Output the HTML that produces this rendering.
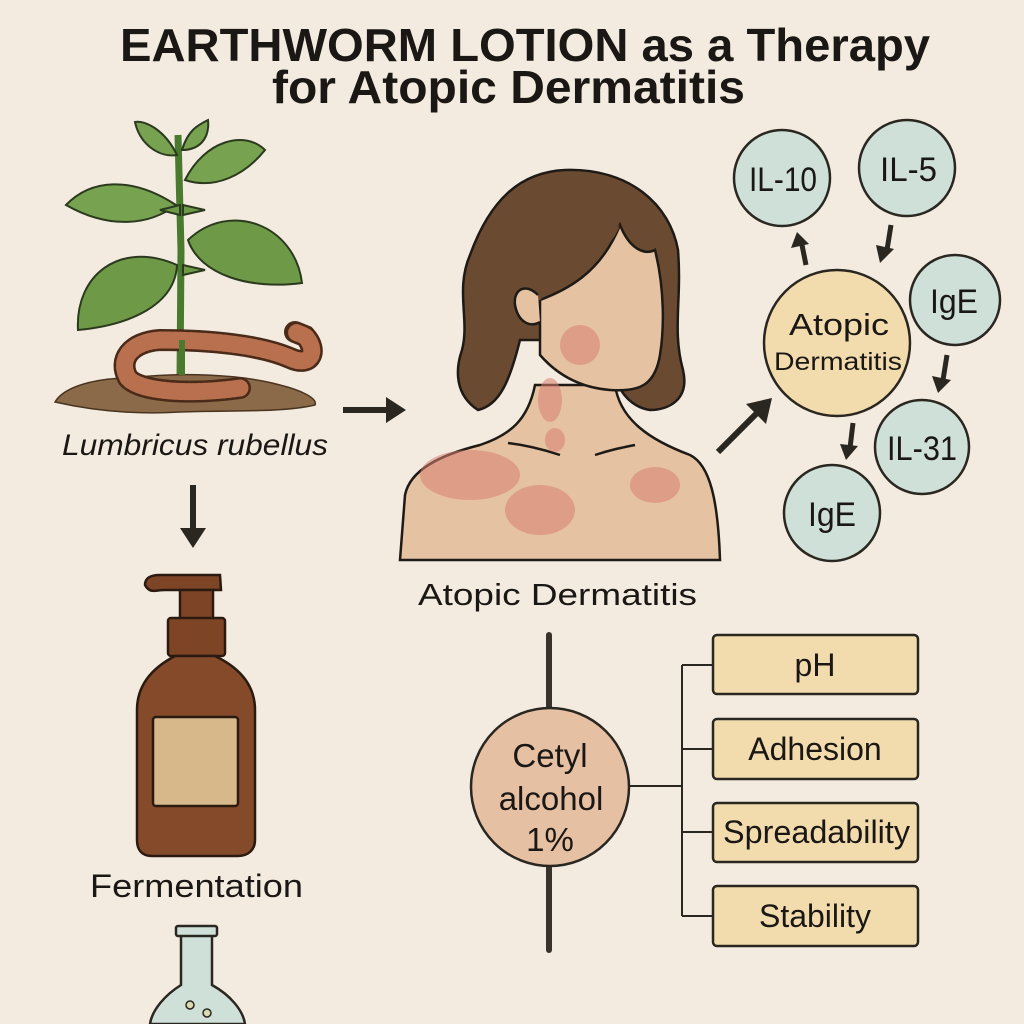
<!DOCTYPE html>
<html><head><meta charset="utf-8"><style>
html,body{margin:0;padding:0;background:#f3ebdf;}
svg{display:block}
text{font-family:"Liberation Sans",sans-serif;fill:#1a1714}
</style></head><body>
<svg width="1024" height="1024" viewBox="0 0 1024 1024" xmlns="http://www.w3.org/2000/svg">
<rect width="1024" height="1024" fill="#f3ebdf"/>
<text x="120" y="61" font-size="46" font-weight="bold" textLength="810" lengthAdjust="spacingAndGlyphs">EARTHWORM LOTION as a Therapy</text>
<text x="272" y="103" font-size="46" font-weight="bold" textLength="473" lengthAdjust="spacingAndGlyphs">for Atopic Dermatitis</text>

<!-- plant -->
<path d="M180 380 L181 250 L178 135" fill="none" stroke="#4a7a2e" stroke-width="7"/>
<g stroke="#2b3a1e" stroke-width="2" fill="#6e9a48">
<path d="M177 265 C120 240 75 275 78 330 C130 325 175 305 177 265Z"/>
<path d="M188 240 C230 200 295 225 302 283 C250 290 200 275 188 240Z"/>
<path d="M176 205 C130 175 90 180 66 205 C110 230 150 225 176 205Z" fill="#77a250"/>
<path d="M185 180 C205 140 245 130 265 150 C245 175 215 190 185 180Z" fill="#77a250"/>
<path d="M177 155 C165 130 145 120 135 122 C140 145 160 158 177 155Z" fill="#77a250"/>
<path d="M182 150 C188 130 198 125 208 120 C210 140 198 150 182 150Z" fill="#77a250"/>
<path d="M180 215 L160 210 L180 205Z M183 215 L205 210 L183 205Z M183 275 L205 270 L183 265Z"/>
</g>
<path d="M55 402 C65 385 100 378 130 378 C180 372 240 374 280 385 C300 390 318 398 315 405 C280 413 230 410 180 412 C130 415 90 410 55 402Z" fill="#8a6a48" stroke="#4a3420" stroke-width="1.5"/>
<path d="M240 388 C190 395 140 392 128 378 C118 360 130 342 160 340 C210 340 260 345 290 358 C312 368 318 350 305 336 L295 332" fill="none" stroke="#4a2a18" stroke-width="22" stroke-linecap="round"/>
<path d="M240 388 C190 395 140 392 128 378 C118 360 130 342 160 340 C210 340 260 345 290 358 C312 368 318 350 305 336 L295 332" fill="none" stroke="#b8704e" stroke-width="17" stroke-linecap="round" stroke-dasharray="2 3"/>
<path d="M182 340 L182 375" stroke="#4a7a2e" stroke-width="6"/>
<text x="62" y="455" font-size="30" font-style="italic" textLength="266" lengthAdjust="spacingAndGlyphs">Lumbricus rubellus</text>

<!-- down arrow -->
<line x1="193" y1="485" x2="193" y2="532" stroke="#2a2620" stroke-width="6"/>
<path d="M180 528 L206 528 L193 548Z" fill="#2a2620"/>

<!-- bottle -->
<g stroke="#2a1a10" stroke-width="2.5" fill="#7e4426">
<path d="M145 585 C145 578 150 575 160 575 L220 575 L221 590 L165 590 C155 590 150 594 145 585Z"/>
<rect x="180" y="590" width="33" height="30"/>
<rect x="168" y="618" width="57" height="38" rx="3"/>
<path d="M175 656 L215 656 C240 668 255 685 255 710 L255 840 C255 850 248 856 238 856 L152 856 C142 856 137 850 137 840 L137 710 C137 685 152 668 175 656Z" fill="#844a2a"/>
<rect x="153" y="717" width="85" height="89" rx="3" fill="#d6b88a"/>
</g>
<text x="90" y="897" font-size="32" textLength="213" lengthAdjust="spacingAndGlyphs">Fermentation</text>
<!-- flask -->
<path d="M181 935 L181 985 C165 995 152 1010 150 1024 L245 1024 C243 1010 230 995 212 985 L212 935" fill="#cfe0d8" stroke="#2a2620" stroke-width="2.5"/>
<rect x="176" y="926" width="41" height="10" rx="2" fill="#cfe0d8" stroke="#2a2620" stroke-width="2.5"/>
<circle cx="190" cy="1005" r="4" fill="#d8dcb0" stroke="#2a2620" stroke-width="1.5"/>
<circle cx="207" cy="1013" r="4" fill="#d8dcb0" stroke="#2a2620" stroke-width="1.5"/>

<!-- right arrow -->
<line x1="343" y1="410" x2="390" y2="410" stroke="#2a2620" stroke-width="6"/>
<path d="M386 397 L406 410 L386 423Z" fill="#2a2620"/>

<!-- woman -->
<g stroke="#1e1a16" stroke-width="2.5">
<path d="M400 560 L405 495 C410 470 440 455 480 445 C510 435 528 420 535 385 L615 385 C620 420 650 440 690 455 C710 465 718 500 720 560Z" fill="#e5c2a2"/>
<path d="M478 410 C455 395 455 370 462 350 C470 320 455 290 470 255 C490 200 520 172 565 170 C630 168 670 205 678 250 C682 300 672 330 683 370 C690 400 668 410 650 410 C615 405 610 360 600 340 L520 340 C510 380 500 405 478 410Z" fill="#6a4a30"/>
<path d="M540 300 C565 290 600 275 620 225 C630 250 645 255 655 250 C665 290 664 330 660 355 C655 385 640 392 610 390 C585 388 560 378 540 355Z" fill="#e5c2a2"/>
<path d="M540 300 C520 305 510 300 510 275 C530 290 555 285 585 265 C600 255 615 240 620 225" fill="#6a4a30" stroke="none"/>
<path d="M538 295 C525 282 513 290 515 305 C518 322 530 328 540 322" fill="#e5c2a2"/>
<path d="M508 443 C525 445 545 450 560 455 M595 455 C610 450 620 448 635 445" fill="none"/>
</g>
<g fill="#d98070" opacity="0.55">
<ellipse cx="580" cy="345" rx="20" ry="20"/><ellipse cx="550" cy="400" rx="12" ry="22"/>
<ellipse cx="470" cy="475" rx="50" ry="25"/><ellipse cx="540" cy="510" rx="35" ry="25"/>
<ellipse cx="655" cy="485" rx="25" ry="18"/><ellipse cx="555" cy="440" rx="10" ry="12"/>
</g>
<text x="418" y="605" font-size="31" textLength="279" lengthAdjust="spacingAndGlyphs">Atopic Dermatitis</text>

<!-- diagonal arrow -->
<line x1="718" y1="452" x2="760" y2="410" stroke="#2a2620" stroke-width="6"/>
<path d="M772 398 L766 424 L746 404Z" fill="#2a2620"/>

<!-- cytokine network -->
<g stroke="#2a2620" stroke-width="2.5">
<circle cx="837" cy="343" r="73" fill="#f2dcae"/>
<circle cx="782" cy="178" r="48" fill="#cfe0d8"/>
<circle cx="907" cy="168" r="48" fill="#cfe0d8"/>
<circle cx="955" cy="300" r="45" fill="#cfe0d8"/>
<circle cx="922" cy="447" r="47" fill="#cfe0d8"/>
<circle cx="832" cy="513" r="48" fill="#cfe0d8"/>
</g>
<g stroke="#2a2620" stroke-width="5">
<line x1="806" y1="265" x2="802" y2="245"/><line x1="891" y1="225" x2="887" y2="250"/>
<line x1="947" y1="355" x2="943" y2="380"/><line x1="853" y1="423" x2="850" y2="448"/>
</g>
<g fill="#2a2620">
<path d="M791 248 L797 232 L809 244Z"/><path d="M876 245 L880 263 L894 249Z"/>
<path d="M932 376 L938 393 L951 380Z"/><path d="M840 444 L846 460 L858 446Z"/>
</g>
<text x="789" y="335" font-size="31" textLength="100" lengthAdjust="spacingAndGlyphs">Atopic</text>
<text x="774" y="370" font-size="25" textLength="128" lengthAdjust="spacingAndGlyphs">Dermatitis</text>
<text x="749" y="191" font-size="34" textLength="68" lengthAdjust="spacingAndGlyphs">IL-10</text>
<text x="880" y="181" font-size="34" textLength="57" lengthAdjust="spacingAndGlyphs">IL-5</text>
<text x="930" y="313" font-size="34" textLength="48" lengthAdjust="spacingAndGlyphs">IgE</text>
<text x="887" y="460" font-size="34" textLength="70" lengthAdjust="spacingAndGlyphs">IL-31</text>
<text x="808" y="526" font-size="34" textLength="48" lengthAdjust="spacingAndGlyphs">IgE</text>

<!-- cetyl -->
<line x1="549" y1="635" x2="549" y2="950" stroke="#38332a" stroke-width="6" stroke-linecap="round"/>
<circle cx="550" cy="787" r="79" fill="#e6c0a3" stroke="#2a2620" stroke-width="2.5"/>
<text x="550" y="767" font-size="33" text-anchor="middle">Cetyl</text>
<text x="551" y="810" font-size="33" text-anchor="middle">alcohol</text>
<text x="550" y="851" font-size="33" text-anchor="middle">1%</text>
<g stroke="#2a2620" stroke-width="2" fill="none">
<path d="M629 786 L682 786 M682 665 L682 916 M682 665 L713 665 M682 749 L713 749 M682 832 L713 832 M682 916 L713 916"/>
</g>
<g stroke="#2a2620" stroke-width="2.5" fill="#f2dcae">
<rect x="713" y="635" width="205" height="59" rx="4"/>
<rect x="713" y="719" width="205" height="60" rx="4"/>
<rect x="713" y="803" width="205" height="59" rx="4"/>
<rect x="713" y="886" width="205" height="60" rx="4"/>
</g>
<text x="815" y="676" font-size="32" text-anchor="middle">pH</text>
<text x="815" y="760" font-size="32" text-anchor="middle">Adhesion</text>
<text x="723" y="843" font-size="32" textLength="187" lengthAdjust="spacingAndGlyphs">Spreadability</text>
<text x="815" y="927" font-size="32" text-anchor="middle">Stability</text>
</svg>
</body></html>
